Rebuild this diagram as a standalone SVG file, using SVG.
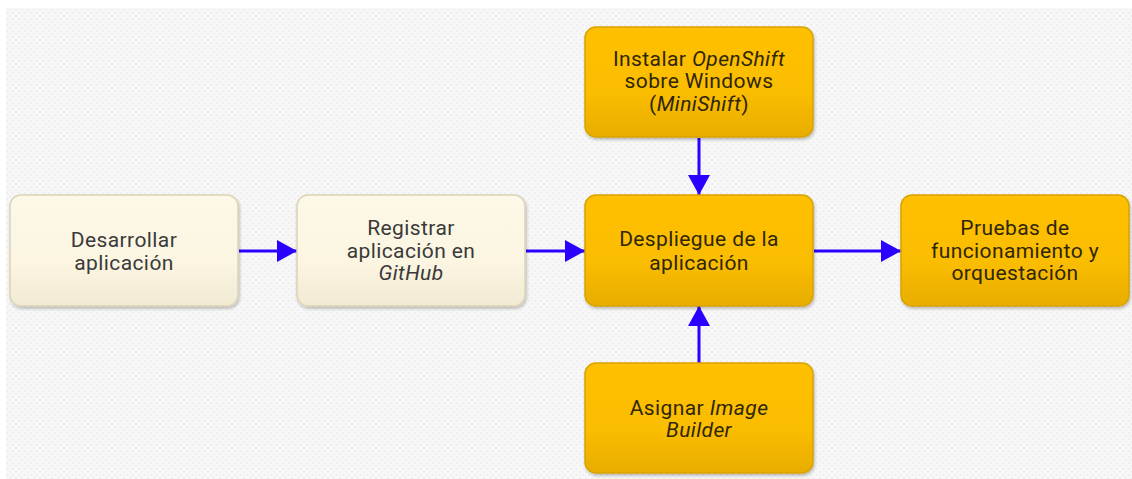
<svg xmlns="http://www.w3.org/2000/svg" width="1132" height="479" viewBox="0 0 1132 479">
  <defs>
    <pattern id="dots" x="0" y="0" width="6" height="6" patternUnits="userSpaceOnUse">
      <rect width="6" height="6" fill="#f7f7f7"/>
      <rect x="0" y="0" width="2" height="2" fill="#efefef"/>
      <rect x="3" y="3" width="2" height="2" fill="#efefef"/>
    </pattern>
    <linearGradient id="cream" x1="0" y1="0" x2="0" y2="1">
      <stop offset="0" stop-color="#fdf8e7"/>
      <stop offset="0.6" stop-color="#fbf5e2"/>
      <stop offset="1" stop-color="#f1ead3"/>
    </linearGradient>
    <linearGradient id="gold" x1="0" y1="0" x2="0" y2="1">
      <stop offset="0" stop-color="#ffc000"/>
      <stop offset="0.6" stop-color="#fbbd00"/>
      <stop offset="1" stop-color="#e8ad00"/>
    </linearGradient>
    <filter id="shadow" x="-10%" y="-10%" width="125%" height="130%">
      <feGaussianBlur in="SourceAlpha" stdDeviation="1.5"/>
      <feOffset dx="1" dy="2" result="b"/>
      <feComponentTransfer><feFuncA type="linear" slope="0.25"/></feComponentTransfer>
      <feMerge><feMergeNode/><feMergeNode in="SourceGraphic"/></feMerge>
    </filter>
    <marker id="arrow" viewBox="0 0 20 22" refX="20" refY="11" markerWidth="20" markerHeight="22" markerUnits="userSpaceOnUse" orient="auto">
      <path d="M0,0 L20,11 L0,22 Z" fill="#2a00ff"/>
    </marker>
  </defs>
  <style>
    .box-cream { fill: url(#cream); stroke: #dcd4b8; stroke-width: 1.5; filter: url(#shadow); }
    .box-gold { fill: url(#gold); stroke: #d9a300; stroke-width: 1.5; filter: url(#shadow); }
    .lbl { font-family: Roboto, "Liberation Sans", sans-serif; font-size: 21px; letter-spacing: 0.4px; text-anchor: middle; }
    .cream-t { fill: #3a3a3a; }
    .gold-t { fill: #2e2606; }
    .edge { stroke: #2a00ff; stroke-width: 3; fill: none; marker-end: url(#arrow); }
    .it { font-style: italic; }
  </style>
  <rect x="0" y="0" width="1132" height="479" fill="#ffffff"/>
  <rect x="6" y="8" width="1126" height="471" fill="url(#dots)"/>

  <g id="connectors">
    <line class="edge" x1="239" y1="251" x2="297" y2="251"/>
    <line class="edge" x1="526" y1="251" x2="585" y2="251"/>
    <line class="edge" x1="814" y1="251" x2="901" y2="251"/>
    <line class="edge" x1="699" y1="138" x2="699" y2="195"/>
    <line class="edge" x1="699" y1="363" x2="699" y2="306"/>
  </g>

  <g id="desarrollar">
    <rect class="box-cream" x="10" y="195" width="228" height="111" rx="11"/>
    <text class="lbl cream-t" x="124" y="247">Desarrollar</text>
    <text class="lbl cream-t" x="124" y="270">aplicación</text>
  </g>

  <g id="registrar">
    <rect class="box-cream" x="297" y="195" width="228" height="111" rx="11"/>
    <text class="lbl cream-t" x="411" y="235">Registrar</text>
    <text class="lbl cream-t" x="411" y="258">aplicación en</text>
    <text class="lbl cream-t it" x="411" y="280">GitHub</text>
  </g>

  <g id="despliegue">
    <rect class="box-gold" x="585" y="195" width="228" height="111" rx="11"/>
    <text class="lbl gold-t" x="699" y="246">Despliegue de la</text>
    <text class="lbl gold-t" x="699" y="270">aplicación</text>
  </g>

  <g id="pruebas">
    <rect class="box-gold" x="901" y="195" width="228" height="111" rx="11"/>
    <text class="lbl gold-t" x="1015" y="235">Pruebas de</text>
    <text class="lbl gold-t" x="1015" y="258">funcionamiento y</text>
    <text class="lbl gold-t" x="1015" y="280">orquestación</text>
  </g>

  <g id="instalar">
    <rect class="box-gold" x="585" y="27" width="228" height="110" rx="11"/>
    <text class="lbl gold-t" x="699" y="65.5">Instalar <tspan class="it">OpenShift</tspan></text>
    <text class="lbl gold-t" x="699" y="88">sobre Windows</text>
    <text class="lbl gold-t" x="699" y="110.5">(<tspan class="it">MiniShift</tspan>)</text>
  </g>

  <g id="asignar">
    <rect class="box-gold" x="585" y="363" width="228" height="110" rx="11"/>
    <text class="lbl gold-t" x="699" y="415">Asignar <tspan class="it">Image</tspan></text>
    <text class="lbl gold-t it" x="699" y="437">Builder</text>
  </g>
</svg>
